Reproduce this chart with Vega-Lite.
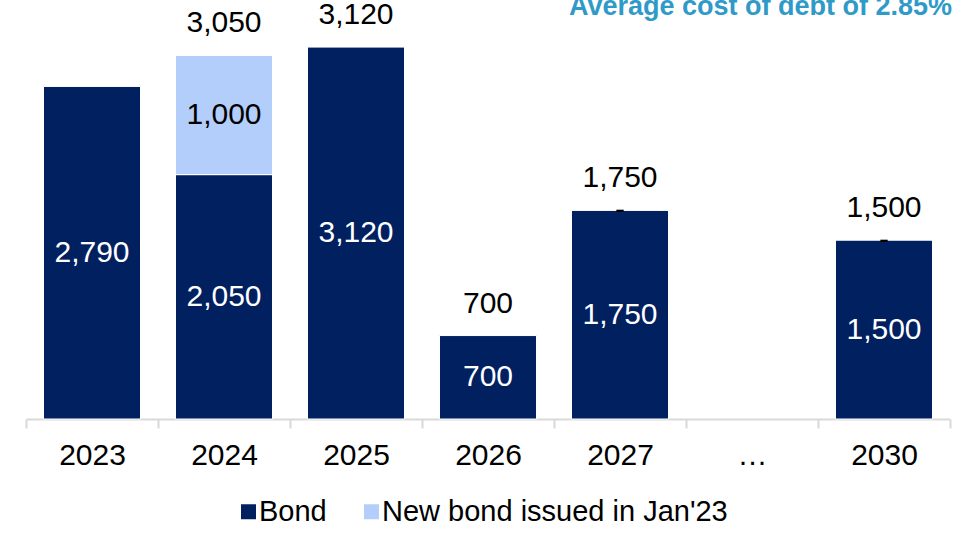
{
  "$schema": "https://vega.github.io/schema/vega-lite/v6.json",
  "width": 924,
  "height": 419,
  "autosize": {"type": "none"},
  "padding": {"left": 26, "top": 0, "right": 12, "bottom": 114},
  "background": "white",
  "config": {"view": {"stroke": null}, "font": "Liberation Sans"},
  "title": {
    "text": "Average cost of debt of 2.85%",
    "anchor": "end",
    "frame": "group",
    "orient": "top",
    "fontSize": 27,
    "fontWeight": "bold",
    "color": "#2F9AC8",
    "font": "Liberation Sans",
    "offset": 0,
    "dy": 42,
    "dx": 2,
    "baseline": "alphabetic"
  },
  "datasets": {
    "segments": [
      {"year": "2023", "series": "Bond", "value": 2790},
      {"year": "2024", "series": "Bond", "value": 2050},
      {"year": "2024", "series": "New bond issued in Jan'23", "value": 1000},
      {"year": "2025", "series": "Bond", "value": 3120},
      {"year": "2026", "series": "Bond", "value": 700},
      {"year": "2027", "series": "Bond", "value": 1750},
      {"year": "2027", "series": "New bond issued in Jan'23", "value": 0},
      {"year": "2030", "series": "Bond", "value": 1500},
      {"year": "2030", "series": "New bond issued in Jan'23", "value": 0}
    ],
    "totals": [
      {"year": "2024", "total": 3050},
      {"year": "2025", "total": 3120},
      {"year": "2026", "total": 700},
      {"year": "2027", "total": 1750},
      {"year": "2030", "total": 1500}
    ]
  },
  "layer": [
    {
      "data": {"name": "segments"},
      "transform": [{"filter": "datum.value > 0"}],
      "mark": {"type": "bar", "stroke": "white", "strokeWidth": 1, "width": {"band": 0.735}},
      "encoding": {
        "x": {
          "field": "year",
          "type": "nominal",
          "title": null,
          "scale": {
            "domain": ["2023", "2024", "2025", "2026", "2027", "…", "2030"],
            "paddingInner": 0,
            "paddingOuter": 0
          },
          "axis": {
            "title": null,
            "domainColor": "#D9D9D9",
            "domainWidth": 2,
            "tickColor": "#D9D9D9",
            "tickWidth": 2,
            "tickSize": 9,
            "tickBand": "extent",
            "labelFontSize": 30,
            "labelColor": "black",
            "labelPadding": 12,
            "labelAngle": 0,
            "labelFont": "Liberation Sans"
          }
        },
        "y": {
          "field": "value",
          "type": "quantitative",
          "stack": "zero",
          "scale": {"domain": [0, 3515], "nice": false},
          "axis": null
        },
        "color": {
          "field": "series",
          "type": "nominal",
          "scale": {
            "domain": ["Bond", "New bond issued in Jan'23"],
            "range": ["#002060", "#B4CEFB"]
          },
          "legend": {
            "title": null,
            "orient": "none",
            "legendX": 208,
            "legendY": 497,
            "direction": "horizontal",
            "symbolType": "square",
            "symbolSize": 225,
            "symbolStrokeWidth": 0,
            "labelFontSize": 29,
            "labelFont": "Liberation Sans",
            "labelColor": "black",
            "labelLimit": 600,
            "labelOffset": -4,
            "columnPadding": 30
          }
        },
        "order": {"field": "series", "sort": "ascending"}
      }
    },
    {
      "data": {"name": "segments"},
      "transform": [
        {"stack": "value", "groupby": ["year"], "sort": [{"field": "series", "order": "ascending"}], "as": ["v0", "v1"]},
        {"calculate": "(datum.v0 + datum.v1) / 2", "as": "mid"},
        {"calculate": "datum.value === 0 ? '-' : format(datum.value, ',')", "as": "label"}
      ],
      "mark": {"type": "text", "fontSize": 30, "baseline": "middle", "font": "Liberation Sans"},
      "encoding": {
        "x": {"field": "year", "type": "nominal"},
        "y": {"field": "mid", "type": "quantitative"},
        "text": {"field": "label"},
        "color": {
          "condition": {"test": "datum.series === 'Bond' && datum.value > 0", "value": "white"},
          "value": "black"
        }
      }
    },
    {
      "data": {"name": "totals"},
      "mark": {"type": "text", "fontSize": 30, "baseline": "alphabetic", "dy": -23, "color": "black", "font": "Liberation Sans"},
      "encoding": {
        "x": {"field": "year", "type": "nominal"},
        "y": {"field": "total", "type": "quantitative"},
        "text": {"field": "total", "type": "quantitative", "format": ","}
      }
    }
  ]
}
